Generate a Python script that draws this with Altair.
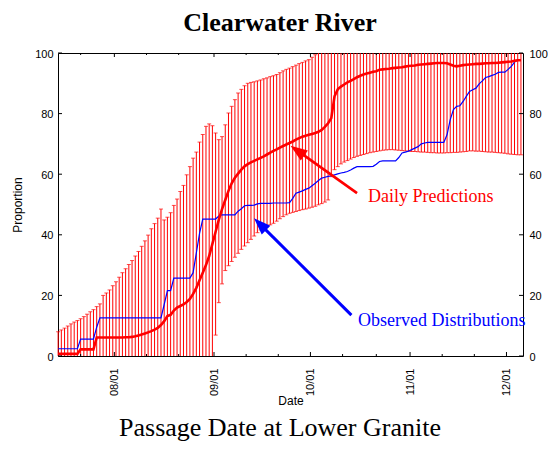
import math
import altair as alt
import pandas as pd

# ---------------- data ----------------
# one value per day, first day = Jul 14 (bar drawn at noon)
upper = [
    8.0, 8.6, 9.2, 9.9, 10.6, 11.2, 11.7, 12.3, 13.0, 13.8,
    14.6, 15.3, 16.3, 17.2, 20.0, 20.8, 21.8, 23.2, 24.5, 26.0,
    27.5, 28.8, 30.2, 31.5, 33.0, 34.5, 36.2, 38.0, 39.9, 42.0,
    43.7, 45.5, 48.5, 44.9, 45.8, 47.3, 49.7, 51.8, 54.3, 56.3,
    59.8, 62.5, 65.3, 67.3, 70.6, 73.1, 75.8, 76.6, 76.0, 73.6,
    71.4, 72.4, 76.3, 80.2, 82.4, 84.6, 86.8, 88.0, 89.2, 90.0,
    90.3, 90.5, 90.8, 91.1, 91.5, 91.8, 92.2, 92.5, 92.9, 93.5,
    94.1, 94.6, 95.0, 95.5, 96.0, 96.5, 96.9, 97.4, 97.8, 98.6,
    99.4, 100, 100, 100, 100, 100, 100, 100, 100, 100,
    100, 100, 100, 100, 100, 100, 100, 100, 100, 100,
    100, 100, 100, 100, 100, 100, 100, 100, 100, 100,
    100, 100, 100, 100, 100, 100, 100, 100, 100, 100,
    100, 100, 100, 100, 100, 100, 100, 100, 100, 100,
    100, 100, 100, 100, 100, 100, 100, 100, 100, 100,
    100, 100, 100, 100, 100,
]
lower = [
    0, 0, 0, 0, 0, 0, 0, 0, 0, 0,
    0, 0, 0, 0, 0, 0, 0, 0, 0, 0,
    0, 0, 0, 0, 0, 0, 0, 0, 0, 0,
    0, 0, 0, 0, 0, 0, 0, 0, 0, 0,
    0, 0, 0, 0, 0, 0, 0, 0, 0, 6.9,
    17.6, 23.8, 28.2, 29.8, 31.2, 32.6, 33.9, 35.2, 36.3, 37.4,
    38.5, 39.6, 40.7, 41.6, 42.2, 42.7, 43.3, 43.8, 44.5, 45.3,
    46.0, 46.6, 47.1, 47.4, 47.7, 48.0, 48.3, 48.5, 48.8, 49.1,
    49.4, 49.9, 50.3, 50.8, 51.5, 59.2, 61.5, 62.5, 63.4, 64.0,
    64.5, 65.0, 65.5, 65.9, 66.2, 66.5, 66.8, 67.1, 67.3, 67.5,
    67.7, 67.9, 68.0, 68.1, 68.1, 68.0, 67.9, 67.8, 67.7, 67.6,
    67.5, 67.5, 67.4, 67.3, 67.3, 67.2, 67.1, 67.1, 67.0, 67.0,
    67.0, 67.1, 67.1, 67.2, 67.2, 67.3, 67.4, 67.5, 67.7, 67.7,
    67.6, 67.6, 67.5, 67.4, 67.3, 67.3, 67.2, 67.1, 67.0, 66.9,
    66.7, 66.6, 66.5, 66.4, 66.4,
]
predicted = [
    0.7, 0.7, 0.7, 0.7, 0.7, 0.7, 0.7, 2.2, 2.2, 2.2,
    2.2, 2.2, 6.1, 6.1, 6.1, 6.1, 6.1, 6.1, 6.1, 6.1,
    6.1, 6.2, 6.2, 6.3, 6.5, 6.8, 7.1, 7.4, 7.8, 8.2,
    8.7, 9.3, 10.2, 11.5, 13.2, 13.6, 15.0, 16.0, 16.5, 17.0,
    17.8, 18.8, 20.5, 22.5, 25.0, 27.5, 30.0, 33.0, 37.0, 41.0,
    45.0, 48.5, 51.5, 54.5, 57.0, 58.8, 60.2, 61.5, 62.6, 63.3,
    63.9, 64.4, 64.9, 65.4, 65.9, 66.5, 67.1, 67.7, 68.2, 68.8,
    69.3, 69.8, 70.3, 70.8, 71.4, 71.9, 72.4, 72.7, 73.0, 73.3,
    73.6, 74.0, 74.6, 75.6, 76.8, 78.5, 85.7, 88.0, 88.9, 89.6,
    90.3, 90.8, 91.4, 92.0, 92.5, 92.9, 93.2, 93.5, 93.8, 94.0,
    94.5, 94.6, 94.7, 94.8, 95.0, 95.1, 95.2, 95.3, 95.5, 95.7,
    95.8, 95.9, 96.1, 96.2, 96.3, 96.4, 96.5, 96.6, 96.7, 96.7,
    96.7, 96.6, 96.2, 95.8, 95.6, 95.8, 96.0, 96.1, 96.2, 96.3,
    96.4, 96.4, 96.5, 96.6, 96.6, 96.7, 96.7, 96.8, 96.9, 97.0,
    97.1, 97.2, 97.4, 97.6, 97.6,
]
observed = [
    2.4, 2.4, 2.4, 2.4, 2.4, 2.4, 2.4, 5.6, 5.6, 5.6,
    5.6, 5.6, 9.5, 12.6, 12.6, 12.6, 12.6, 12.6, 12.6, 12.6,
    12.6, 12.6, 12.6, 12.6, 12.6, 12.6, 12.6, 12.6, 12.6, 12.6,
    12.6, 12.6, 12.6, 17.0, 21.6, 21.6, 25.7, 25.7, 25.7, 25.7,
    25.7, 25.7, 27.5, 34.0, 40.5, 45.2, 45.2, 45.2, 45.2, 45.2,
    46.2, 46.6, 46.6, 46.6, 46.6, 46.6, 47.8, 48.6, 49.6, 49.7,
    49.7, 49.8, 50.2, 50.4, 50.4, 50.4, 50.4, 50.5, 50.5, 50.5,
    50.5, 50.5, 50.6, 52.0, 53.7, 54.1, 54.5, 55.0, 55.4, 56.2,
    57.0, 57.9, 58.7, 59.0, 59.3, 59.5, 59.8, 60.1, 60.4, 60.6,
    60.9, 61.4, 62.0, 62.5, 62.5, 62.5, 62.5, 62.5, 62.6, 63.3,
    64.2, 64.4, 64.4, 64.4, 64.4, 64.4, 65.5, 67.0, 67.3, 67.6,
    68.1, 68.6, 69.1, 70.0, 70.3, 70.5, 70.5, 70.5, 70.5, 70.5,
    70.5, 73.0, 78.0, 81.3, 82.4, 82.6, 84.0, 85.7, 87.3, 87.9,
    88.4, 89.8, 90.8, 91.9, 92.2, 92.6, 93.0, 93.6, 93.7, 93.7,
    94.6, 95.6, 97.0, 97.6, 97.6,
]

# x is "days since Jul 14, 00:00"
x_domain = [0.46, 145.14]
month_ticks = [18, 49, 79, 110, 140]
month_labels = ["08/01", "09/01", "10/01", "11/01", "12/01"]
minor_ticks = [7.5, 28, 38, 59, 69, 89, 99.5, 120, 130]
y_ticks = [0, 20, 40, 60, 80, 100]

title_text = "Clearwater River"
caption_text = "Passage Date at Lower Granite"
x_title = "Date"
y_title = "Proportion"

annot_labels = ["Daily Predictions", "Observed Distributions"]
annot_colors = ["#ff0000", "#0000ff"]
annot_day = [96.9, 93.8]
annot_val = [50.9, 9.75]
arrow_tail_day = [93.5, 91.75]
arrow_tail_val = [53.75, 13.5]
arrow_tip_day = [72.8, 61.45]
arrow_tip_val = [69.4, 45.5]
arrow_widths = [2.6, 3.0]

# ---------------- layout ----------------
W, H = 465, 303
px_day = W / (x_domain[1] - x_domain[0])
px_val = H / 100.0
HEAD_LEN = 17

df = pd.DataFrame({
    "day": [i + 0.5 for i in range(len(predicted))],
    "upper": upper, "lower": lower,
    "pred": predicted, "obs": observed,
})

rows = []
for lab, col, td, tv, pd_, pv, w in zip(annot_labels, annot_colors, arrow_tail_day,
                                         arrow_tail_val, arrow_tip_day, arrow_tip_val,
                                         arrow_widths):
    dx = (pd_ - td) * px_day
    dy = -(pv - tv) * px_val
    L = math.hypot(dx, dy)
    ang = math.degrees(math.atan2(dx, -dy)) % 360
    k = (L - HEAD_LEN * 0.6) / L
    rows.append({
        "tail_day": td, "tail_val": tv,
        "end_day": td + (pd_ - td) * k, "end_val": tv + (pv - tv) * k,
        "tip_day": pd_, "tip_val": pv, "color": col, "angle": ang, "w": w,
    })
arrows = pd.DataFrame(rows)
annots = pd.DataFrame({"day": annot_day, "val": annot_val,
                       "label": annot_labels, "color": annot_colors})

label_expr = "''"
for d, l in reversed(list(zip(month_ticks, month_labels))):
    label_expr = f"datum.value == {d} ? '{l}' : {label_expr}"

xscale = alt.Scale(domain=x_domain, nice=False, zero=False)
yscale = alt.Scale(domain=[0, 100], nice=False, zero=False)
xaxis = alt.Axis(values=month_ticks, labelExpr=label_expr, labelAngle=270,
                 labelPadding=12, labelFlush=False, labelOverlap=False,
                 title=x_title, titleY=48.5, titleBaseline="alphabetic")
yaxis = alt.Axis(values=y_ticks, labelPadding=5, labelOffset=1, labelFlush=False,
                 title=y_title, titleAngle=270, titleX=-41, titleY=H / 2,
                 titleBaseline="middle", titleAlign="center")
yaxis_r = alt.Axis(orient="right", values=y_ticks, labelPadding=6, labelOffset=1,
                   labelFlush=False, title=None)


def X(f):
    return alt.X(f, scale=xscale, axis=xaxis)


def Y(f):
    return alt.Y(f, scale=yscale, axis=yaxis)


base = alt.Chart(df)
bars = base.mark_rule(color="#ff0000", strokeWidth=1).encode(
    x=X("day:Q"), y=Y("lower:Q"), y2="upper:Q")
caps_up = base.transform_filter("datum.upper < 100").mark_tick(
    orient="horizontal", size=4, thickness=1, color="#ff0000").encode(
    x=X("day:Q"), y=Y("upper:Q"))
caps_lo = base.transform_filter("datum.lower > 0").mark_tick(
    orient="horizontal", size=4, thickness=1, color="#ff0000").encode(
    x=X("day:Q"), y=Y("lower:Q"))
obs_line = base.mark_line(color="#0000ff", strokeWidth=1.2).encode(
    x=X("day:Q"), y=Y("obs:Q"))
pred_line = base.mark_line(color="#ff0000", strokeWidth=2.6).encode(
    x=X("day:Q"), y=Y("pred:Q"))

maj = alt.Chart(pd.DataFrame({"day": month_ticks}))
mino = alt.Chart(pd.DataFrame({"day": minor_ticks}))
t_bot = maj.mark_rule(color="black").encode(x=X("day:Q"), y=alt.value(H), y2=alt.value(H - 4))
t_top = maj.mark_rule(color="black").encode(x=X("day:Q"), y=alt.value(0), y2=alt.value(4))
m_bot = mino.mark_rule(color="black").encode(x=X("day:Q"), y=alt.value(H), y2=alt.value(H - 2))
m_top = mino.mark_rule(color="black").encode(x=X("day:Q"), y=alt.value(0), y2=alt.value(2))

yt = alt.Chart(pd.DataFrame({"v": y_ticks}))
t_left = yt.mark_rule(color="black").encode(y=Y("v:Q"), x=alt.value(0), x2=alt.value(4))
t_right = yt.mark_rule(color="black").encode(
    y=alt.Y("v:Q", scale=yscale, axis=yaxis_r), x=alt.value(W), x2=alt.value(W - 4))

arrow_lines = alt.Chart(arrows).mark_rule(strokeCap="butt").encode(
    x=X("tail_day:Q"), y=Y("tail_val:Q"), x2="end_day:Q", y2="end_val:Q",
    color=alt.Color("color:N", scale=None),
    strokeWidth=alt.StrokeWidth("w:Q", scale=None))
arrow_heads = alt.Chart(arrows).mark_point(
    shape="M0,0L0.36,1L-0.36,1Z", filled=True, size=(2 * HEAD_LEN) ** 2,
    opacity=1, strokeWidth=0).encode(
    x=X("tip_day:Q"), y=Y("tip_val:Q"),
    color=alt.Color("color:N", scale=None),
    angle=alt.Angle("angle:Q", scale=None))
annot_text = alt.Chart(annots).mark_text(
    align="left", baseline="alphabetic", font="Liberation Serif", fontSize=18).encode(
    x=X("day:Q"), y=Y("val:Q"), text="label:N",
    color=alt.Color("color:N", scale=None))

title_mark = alt.Chart(pd.DataFrame({"t": [title_text]})).mark_text(
    font="Liberation Serif", fontSize=26, fontWeight="bold", align="center",
    baseline="alphabetic", color="black").encode(
    text="t:N", x=alt.value(222), y=alt.value(-22))
caption_mark = alt.Chart(pd.DataFrame({"t": [caption_text]})).mark_text(
    font="Liberation Serif", fontSize=26, align="center",
    baseline="alphabetic", color="black").encode(
    text="t:N", x=alt.value(222), y=alt.value(383))

main = alt.layer(bars, caps_up, caps_lo, obs_line, pred_line,
                 t_bot, t_top, m_bot, m_top, t_left,
                 arrow_lines, arrow_heads, annot_text, title_mark, caption_mark)

chart = alt.layer(main, t_right).resolve_scale(y="independent").properties(
    width=W, height=H,
    autosize=alt.AutoSizeParams(type="none"),
    padding={"left": 50, "top": 45, "right": 25, "bottom": 85},
).configure_view(stroke="black", strokeWidth=1).configure_axis(
    labelFont="Liberation Sans", labelFontSize=11, labelColor="black",
    titleFont="Liberation Sans", titleFontSize=12, titleFontWeight="normal",
    titleColor="black", grid=False, domain=False, ticks=False, tickSize=0,
)

chart.save("out.html", embed_options={"renderer": "svg", "actions": False})
